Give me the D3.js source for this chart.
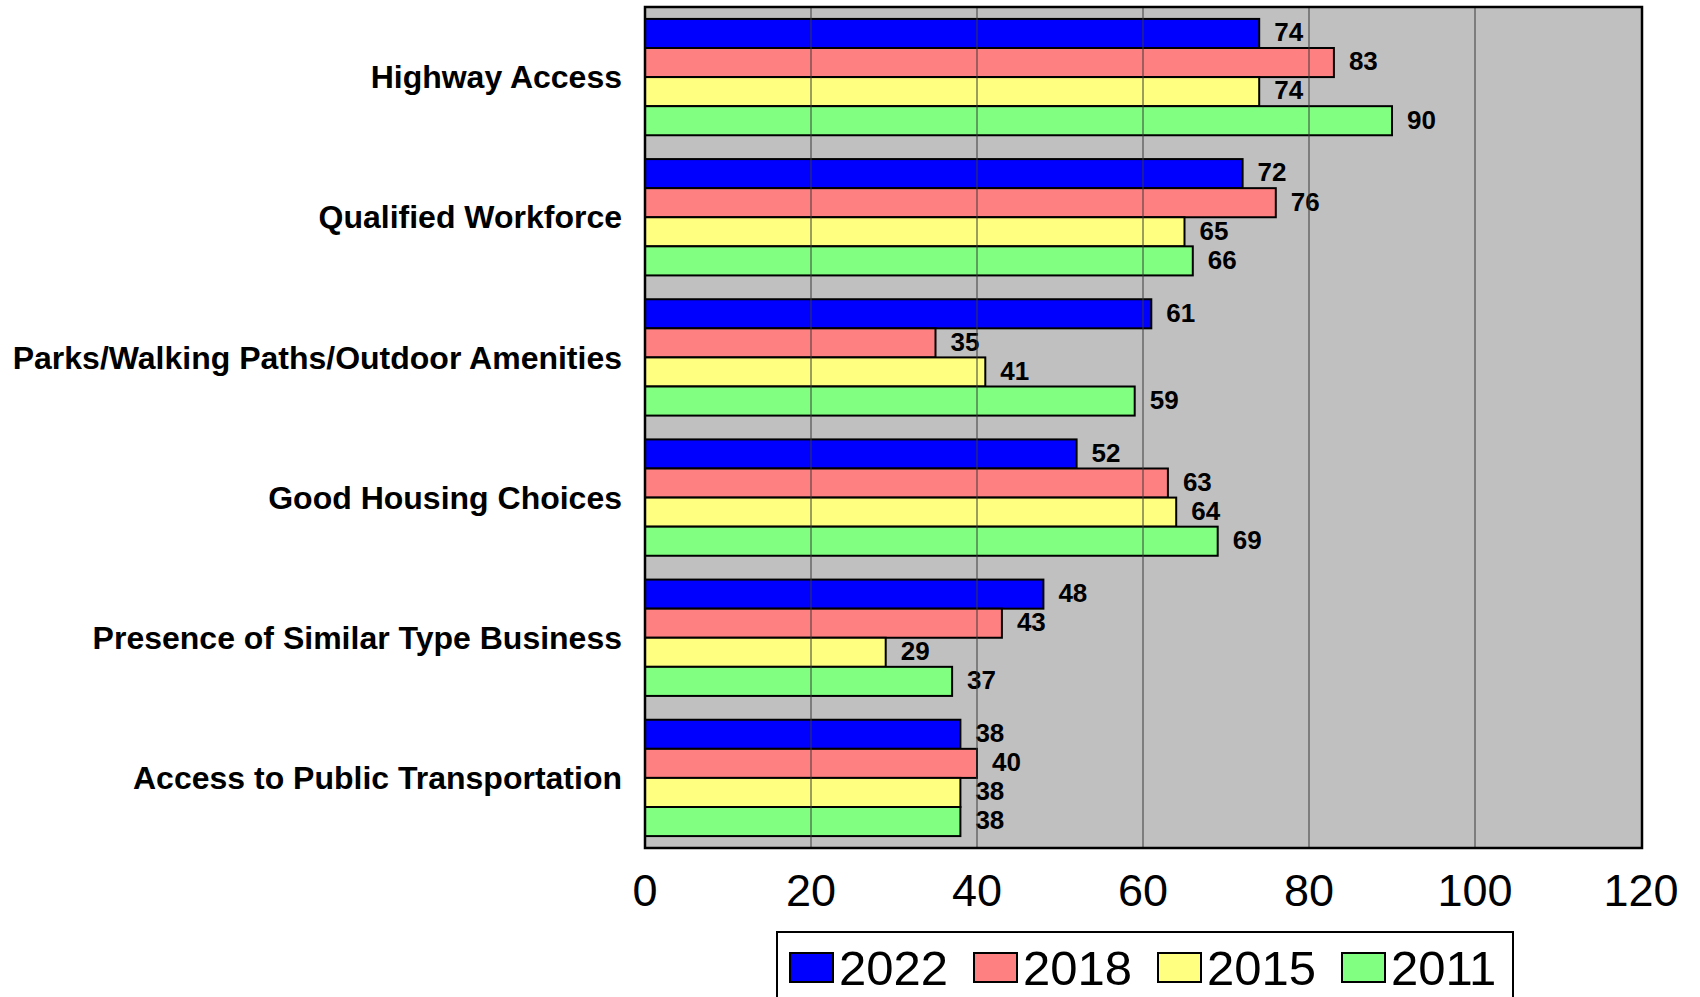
<!DOCTYPE html>
<html lang="en">
<head>
	<meta charset="utf-8" />
	<title>Location factors</title>
	<style>
		body { margin: 0; padding: 0; background: #fff; }
		svg text { font-family: 'Liberation Sans', Arial, sans-serif; }
	</style>
	<script src="https://d3js.org/d3.v7.min.js"></script>
</head>
<body>
	<div id="chart"></div>
	<script>
	// data
	const categories = ["Highway Access", "Qualified Workforce", "Parks/Walking Paths/Outdoor Amenities",
		"Good Housing Choices", "Presence of Similar Type Business", "Access to Public Transportation"];
	const years = ["2022", "2018", "2015", "2011"];
	const v2022 = [74, 72, 61, 52, 48, 38];
	const v2018 = [83, 76, 35, 63, 43, 40];
	const v2015 = [74, 65, 41, 64, 29, 38];
	const v2011 = [90, 66, 59, 69, 37, 38];
	const xTicks = [0, 20, 40, 60, 80, 100, 120];
	const colors = ["#0000ff", "#ff8080", "#ffff80", "#80ff80"];

	const series = [v2022, v2018, v2015, v2011];

	const W = 1700, H = 997;
	const plotL = 645, plotR = 1642, plotT = 7, plotB = 848;

	const svg = d3.select("#chart").append("svg")
		.attr("width", W).attr("height", H);

	const x = d3.scaleLinear().domain([0, 120]).range([plotL, 1641]);
	const y0 = d3.scaleBand().domain(categories).range([plotT, plotB])
		.paddingInner(0.17).paddingOuter(0.085);
	const y1 = d3.scaleBand().domain(years).range([0, y0.bandwidth()]);

	// plot background
	svg.append("rect")
		.attr("x", plotL).attr("y", plotT)
		.attr("width", plotR - plotL).attr("height", plotB - plotT)
		.attr("fill", "#c0c0c0");

	// bars
	const groups = svg.selectAll("g.cat")
		.data(categories)
		.enter().append("g")
		.attr("class", "cat")
		.attr("transform", d => `translate(0,${y0(d)})`);

	groups.selectAll("rect")
		.data((d, i) => years.map((yr, j) => ({ yr: yr, v: series[j][i], c: colors[j] })))
		.enter().append("rect")
		.attr("x", x(0))
		.attr("y", d => y1(d.yr))
		.attr("width", d => x(d.v) - x(0))
		.attr("height", y1.bandwidth())
		.attr("fill", d => d.c)
		.attr("stroke", "#000")
		.attr("stroke-width", 2);

	groups.selectAll("text.val")
		.data((d, i) => years.map((yr, j) => ({ yr: yr, v: series[j][i] })))
		.enter().append("text")
		.attr("class", "val")
		.attr("x", d => x(d.v) + 15)
		.attr("y", d => y1(d.yr) + y1.bandwidth() / 2)
		.attr("dy", "0.3em")
		.attr("font-size", 26)
		.attr("font-weight", "bold")
		.text(d => d.v);

	// gridlines (drawn over the bars like the original)
	svg.selectAll("line.grid")
		.data(xTicks.slice(1, -1))
		.enter().append("line")
		.attr("x1", d => x(d)).attr("x2", d => x(d))
		.attr("y1", plotT).attr("y2", plotB)
		.attr("stroke", "#3a3a3a")
		.attr("stroke-width", 1);

	// plot border
	svg.append("rect")
		.attr("x", plotL).attr("y", plotT)
		.attr("width", plotR - plotL).attr("height", plotB - plotT)
		.attr("fill", "none")
		.attr("stroke", "#000")
		.attr("stroke-width", 2.5);

	// category labels
	svg.selectAll("text.cat")
		.data(categories)
		.enter().append("text")
		.attr("class", "cat")
		.attr("x", 622)
		.attr("y", d => y0(d) + y0.bandwidth() / 2)
		.attr("dy", "0.35em")
		.attr("text-anchor", "end")
		.attr("font-size", 32)
		.attr("font-weight", "bold")
		.text(d => d);

	// x tick labels
	svg.selectAll("text.tick")
		.data(xTicks)
		.enter().append("text")
		.attr("class", "tick")
		.attr("x", d => x(d))
		.attr("y", 906)
		.attr("text-anchor", "middle")
		.attr("font-size", 45)
		.text(d => d);

	// legend
	const lg = svg.append("g");
	lg.append("rect")
		.attr("x", 777).attr("y", 932)
		.attr("width", 736).attr("height", 80)
		.attr("fill", "#fff")
		.attr("stroke", "#000")
		.attr("stroke-width", 2);

	const items = lg.selectAll("g.item")
		.data(years)
		.enter().append("g")
		.attr("transform", (d, i) => `translate(${790 + i * 184},953)`);

	items.append("rect")
		.attr("width", 43).attr("height", 29)
		.attr("fill", (d, i) => colors[i])
		.attr("stroke", "#000")
		.attr("stroke-width", 2);

	items.append("text")
		.attr("x", 49)
		.attr("y", 32)
		.attr("font-size", 49)
		.text(d => d);
	</script>
</body>
</html>
